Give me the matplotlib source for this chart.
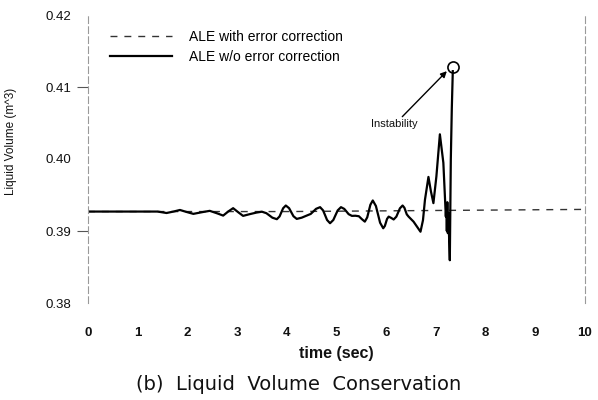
import matplotlib
matplotlib.use("Agg")
import matplotlib.pyplot as plt

# Données
t_corr = [0, 2, 4, 6, 8, 10]
v_corr = [0.3927, 0.3927, 0.3927, 0.3928, 0.3929, 0.3930]

t_raw = [0, 0.7, 1.4, 1.58, 1.72, 1.85, 1.98, 2.12, 2.3, 2.45, 2.6, 2.72, 2.82,
         2.92, 3.02, 3.12, 3.26, 3.39, 3.5, 3.59, 3.65, 3.71, 3.8, 3.854, 3.89,
         3.926, 3.98, 4.046, 4.09, 4.134, 4.2, 4.3, 4.4, 4.481, 4.535, 4.589,
         4.67, 4.73, 4.77, 4.81, 4.87, 4.936, 4.98, 5.024, 5.09, 5.156, 5.2,
         5.244, 5.31, 5.38, 5.45, 5.51, 5.57, 5.618, 5.65, 5.682, 5.73, 5.793,
         5.835, 5.877, 5.94, 5.973, 5.995, 6.017, 6.05, 6.1, 6.15, 6.204, 6.24,
         6.276, 6.33, 6.366, 6.39, 6.414, 6.45, 6.5, 6.55, 6.62, 6.69, 6.74,
         6.78, 6.85, 6.9, 6.95, 7.01, 7.08, 7.15, 7.2, 7.21, 7.22, 7.23, 7.24,
         7.25, 7.28, 7.3, 7.32, 7.34]
v_raw = [0.3927, 0.3927, 0.3927, 0.39250, 0.39270, 0.39292, 0.39265, 0.39238,
         0.39262, 0.39280, 0.39245, 0.39214, 0.39270, 0.39317, 0.39262, 0.39210,
         0.39235, 0.39256, 0.39268, 0.39247, 0.39216, 0.39185, 0.39164, 0.39202,
         0.39259, 0.39316, 0.39354, 0.39317, 0.39261, 0.39205, 0.39168, 0.39185,
         0.39214, 0.39237, 0.39272, 0.39308, 0.39331, 0.39286, 0.39220, 0.39153,
         0.39108, 0.39153, 0.39220, 0.39286, 0.39331, 0.39307, 0.39271, 0.39234,
         0.39210, 0.39212, 0.39205, 0.39165, 0.39130, 0.39189, 0.39277, 0.39365,
         0.39424, 0.39347, 0.39231, 0.39115, 0.39038, 0.39070, 0.39119, 0.39168,
         0.39200, 0.39182, 0.39160, 0.39199, 0.39257, 0.39315, 0.39354, 0.39323,
         0.39277, 0.39231, 0.39200, 0.39165, 0.39130, 0.39060, 0.38990, 0.39150,
         0.39434, 0.39751, 0.39550, 0.39387, 0.39759, 0.40343, 0.39947, 0.39200,
         0.39350, 0.39000, 0.39400, 0.38970, 0.39250, 0.38594, 0.39993, 0.40700,
         0.41220]

peak_t, peak_v = 7.34, 0.41276

TEXT = "#111111"
FAINT = "#9a9a9a"

plt.rcParams.update({
    "font.family": ["Liberation Sans", "DejaVu Sans"],
    "figure.facecolor": "white",
    "axes.facecolor": "white",
})

fig = plt.figure(figsize=(5.98, 4.0), dpi=100)
ax = fig.add_axes([88 / 598, 1 - 303 / 400, (585 - 88) / 598, (303 - 15) / 400])

ax.plot(t_corr, v_corr, color="#333333", lw=1.0, dashes=(5, 5),
        label="ALE with error correction")
ax.plot(t_raw, v_raw, color="black", lw=1.6, solid_joinstyle="round",
        label="ALE w/o error correction")
ax.plot([peak_t], [peak_v], marker="o", ms=8, mfc="none", mec="black", mew=1.2)

ax.annotate("Instability", xy=(7.22, 0.4122), xytext=(6.64, 0.4048),
            ha="right", va="center", fontsize=8, color=TEXT,
            arrowprops=dict(arrowstyle="-|>", color="black", lw=1.0,
                            mutation_scale=9, shrinkA=0, shrinkB=0))

ax.set_xlim(0, 10)
ax.set_ylim(0.38, 0.42)
ax.set_xticks(range(0, 11))
ax.set_yticks([0.38, 0.39, 0.40, 0.41, 0.42])
ax.set_yticklabels(["0.38", "0.39", "0.40", "0.41", "0.42"])

for s in ["top", "bottom"]:
    ax.spines[s].set_visible(False)
for s in ["left", "right"]:
    ax.spines[s].set_color(FAINT)
    ax.spines[s].set_linewidth(0.8)
    ax.spines[s].set_linestyle((0, (6, 3)))

ax.tick_params(axis="x", length=0, pad=17, labelsize=9.5, colors=TEXT)
ax.tick_params(axis="y", length=8, width=0.8, color="#555555", pad=4,
               labelsize=9.5, labelcolor=TEXT)
for i, tk in enumerate(ax.yaxis.get_major_ticks()):
    if i in (0, 2, 4):
        tk.tick1line.set_visible(False)
for lab in ax.get_xticklabels():
    lab.set_fontweight("bold")

ax.set_xlabel("time (sec)", fontsize=11.5, fontweight="bold", labelpad=5, color=TEXT)
ax.set_ylabel("Liquid Volume (m^3)", fontsize=8.5, color=TEXT)
ax.yaxis.set_label_coords(-0.143, 0.5625)

ax.legend(loc="upper left", frameon=False, fontsize=10, handlelength=4.5,
          handletextpad=1.2, labelspacing=0.45, borderpad=0, borderaxespad=0,
          bbox_to_anchor=(0.044, 0.948))

fig.text(0.5, 1 - 384 / 400, "(b)  Liquid  Volume  Conservation", ha="center",
         va="center", fontsize=14, color=TEXT, family="DejaVu Sans")

fig.savefig("out.png", dpi=100)
